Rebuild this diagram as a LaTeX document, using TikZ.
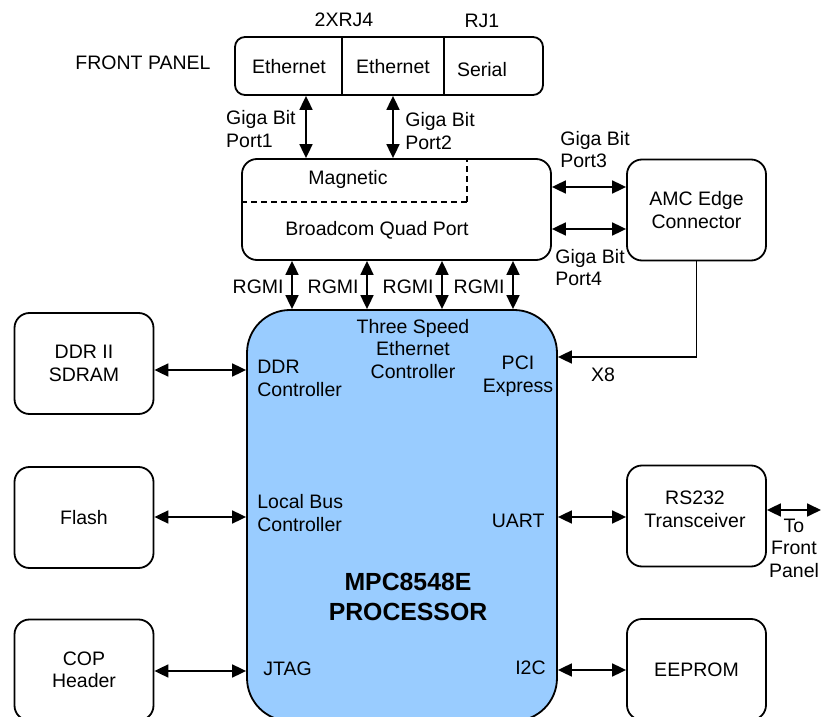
\documentclass[tikz,border=0pt]{standalone}
\usepackage{fontspec}
\setmainfont{Liberation Sans}
\usetikzlibrary{arrows.meta}
\definecolor{procblue}{RGB}{153,204,255}

\begin{document}
\begin{tikzpicture}[x=0.5pt,y=-0.5pt,
  txt/.style={inner sep=0pt,align=center,font=\fontsize{9.75}{11.25}\selectfont},
  blk/.style={txt,draw,line width=0.9pt,rounded corners=7.5pt,
    minimum width=69.5pt,minimum height=50.5pt},
  link/.style={line width=0.9pt,
    {Triangle[length=7pt,width=6.5pt]}-{Triangle[length=7pt,width=6.5pt]}},
  feed/.style={line width=0.9pt,-{Triangle[length=7pt,width=6.5pt]}}]
  \clip (0,0) rectangle (827,717);

  % front panel connectors
  \node[txt] (fplabel) at (143,63) {FRONT PANEL};
  \node[txt,draw,line width=0.9pt,rounded corners=5pt,minimum width=154pt,
    minimum height=29pt] (front) at (389,66) {};
  \draw[line width=0.9pt] (front.north -| 342,0) -- (front.south -| 342,0);
  \draw[line width=0.9pt] (front.north -| 444,0) -- (front.south -| 444,0);
  \node[txt] (eth1) at (289,67) {Ethernet};
  \node[txt] (eth2) at (393,67) {Ethernet};
  \node[txt] (serial) at (482,70) {Serial};
  \node[txt] (rj4) at (344,20) {2XRJ4};
  \node[txt] (rj1) at (482,21) {RJ1};

  % magnetic + broadcom
  \node[blk,minimum width=154.5pt] (quad) at (396.5,209.5) {};
  \draw[line width=0.9pt,dash pattern=on 3pt off 2pt]
    (quad.west |- 0,202) -- (469,202) (467,202) -- (quad.north -| 467,0);
  \node[txt] (magn) at (348,179) {Magnetic};
  \node[txt] (bcm) at (377,230) {Broadcom Quad Port};

  \draw[link] (front.south -| 306,0) -- (quad.north -| 306,0);
  \draw[link] (front.south -| 393,0) -- (quad.north -| 393,0);
  \node[txt,align=left,anchor=east] (gb1) at (296,129) {Giga Bit\\Port1};
  \node[txt,align=left,anchor=west] (gb2) at (405,131) {Giga Bit\\Port2};

  % processor
  \node[draw,line width=0.9pt,fill=procblue,rounded corners=21.5pt,
    minimum width=155pt,minimum height=205.5pt] (proc) at (402,515.5) {};
  \foreach \x [count=\i] in {292,367,442,513} {
    \draw[link] (quad.south -| \x,0) -- (proc.north -| \x,0);
    \node[txt,anchor=east] (rgmi\i) at (\x-8,287) {RGMI};
  }
  \node[txt] (tsec) at (413,349) {Three Speed\\Ethernet\\Controller};
  \node[txt] (pcie) at (518,376) {PCI\\Express};
  \node[txt,align=left,anchor=west] (ddrc) at (257,378.5) {DDR\\Controller};
  \node[txt,align=left,anchor=west] (lbc) at (257,513) {Local Bus\\Controller};
  \node[txt,anchor=west] (jtag) at (263,669) {JTAG};
  \node[txt,anchor=east] (uart) at (545,521) {UART};
  \node[txt,anchor=east] (iic) at (546,668) {I2C};
  \node[txt,font=\fontsize{12.4}{15}\selectfont\bfseries] (cpu) at (408,597)
    {MPC8548E\\PROCESSOR};

  % left side
  \node[blk] (ddr) at (84,363.5) {DDR II\\SDRAM};
  \node[blk] (flash) at (84,517.5) {Flash};
  \node[blk] (cop) at (84,670) {COP\\Header};
  \draw[link] (ddr.east |- 0,370) -- (proc.west |- 0,370);
  \draw[link] (flash.east |- 0,517) -- (proc.west |- 0,517);
  \draw[link] (cop.east |- 0,671) -- (proc.west |- 0,671);

  % right side
  \node[blk] (amc) at (696.5,210) {AMC Edge\\Connector};
  \draw[link] (quad.east |- 0,187) -- (amc.west |- 0,187);
  \draw[link] (quad.east |- 0,229) -- (amc.west |- 0,229);
  \node[txt,align=left,anchor=west] (gb3) at (560,149.5) {Giga Bit\\Port3};
  \node[txt,align=left,anchor=west] (gb4) at (555,267.5) {Giga Bit\\Port4};
  \draw[feed] (amc.south) -- (amc.south |- 0,357) -- (proc.east |- 0,357);
  \node[txt] (x8) at (603,375) {X8};

  \node[blk] (rs232) at (696.5,516) {};
  \node[txt] (rs232txt) at (695,509.5) {RS232\\Transceiver};
  \coordinate (fpout) at (821,510);
  \draw[link] (rs232.east |- fpout) -- (fpout);
  \node[txt] (tofp) at (794,548) {To\\Front\\Panel};
  \node[blk] (eeprom) at (696.5,669.5) {EEPROM};
  \draw[link] (proc.east |- 0,517) -- (rs232.west |- 0,517);
  \draw[link] (proc.east |- 0,670) -- (eeprom.west |- 0,670);
\end{tikzpicture}
\end{document}
